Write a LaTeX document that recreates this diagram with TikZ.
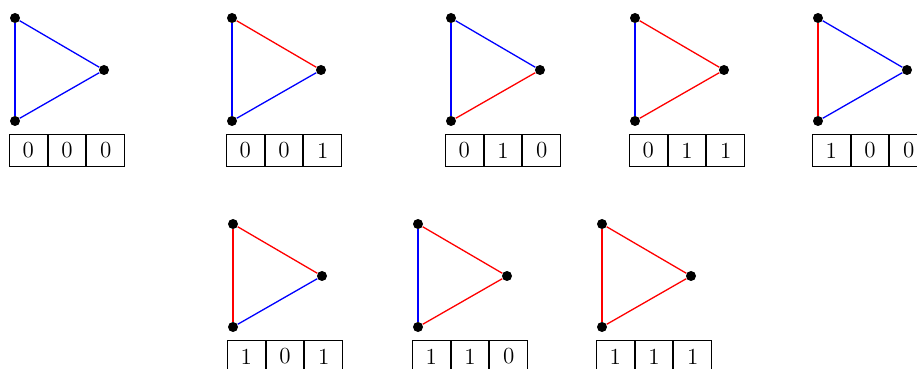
\documentclass[tikz,border=0pt]{standalone}
\tikzset{
  dot/.style={circle,fill=black,inner sep=0pt,minimum size=5pt},
  edgeline/.style={line width=0.65pt},
  cell/.style={draw,line width=0.5pt,rectangle,minimum width=18.85pt,minimum height=16pt,inner sep=0pt,font=\fontsize{11.5}{14}\selectfont},
}
\newcommand{\mytri}[9]{%
  \node[dot] (t#1a) at (#2,#3) {};
  \node[dot] (t#1b) at (#2,#3+103) {};
  \node[dot] (t#1c) at (#2+89,#3+52) {};
  \draw[edgeline,#4] (t#1a) -- (t#1b);
  \draw[edgeline,#5] (t#1b) -- (t#1c);
  \draw[edgeline,#6] (t#1a) -- (t#1c);
  \node[cell,anchor=north west] (t#1p) at (#2-6,#3+116) {#7};
  \node[cell,anchor=west] (t#1q) at (t#1p.east) {#8};
  \node[cell,anchor=west] (t#1r) at (t#1q.east) {#9};
}
\begin{document}
\begin{tikzpicture}[x=0.5pt,y=-0.5pt]
\useasboundingbox (0,0) rectangle (917,369);
\mytri{1}{15}{18}{blue}{blue}{blue}{0}{0}{0}
\mytri{2}{232}{18}{blue}{blue}{red}{0}{0}{1}
\mytri{3}{451}{18}{blue}{red}{blue}{0}{1}{0}
\mytri{4}{635}{18}{blue}{red}{red}{0}{1}{1}
\mytri{5}{818}{18}{red}{blue}{blue}{1}{0}{0}
\mytri{6}{233}{224}{red}{blue}{red}{1}{0}{1}
\mytri{7}{418}{224}{blue}{red}{red}{1}{1}{0}
\mytri{8}{602}{224}{red}{red}{red}{1}{1}{1}
\end{tikzpicture}
\end{document}
